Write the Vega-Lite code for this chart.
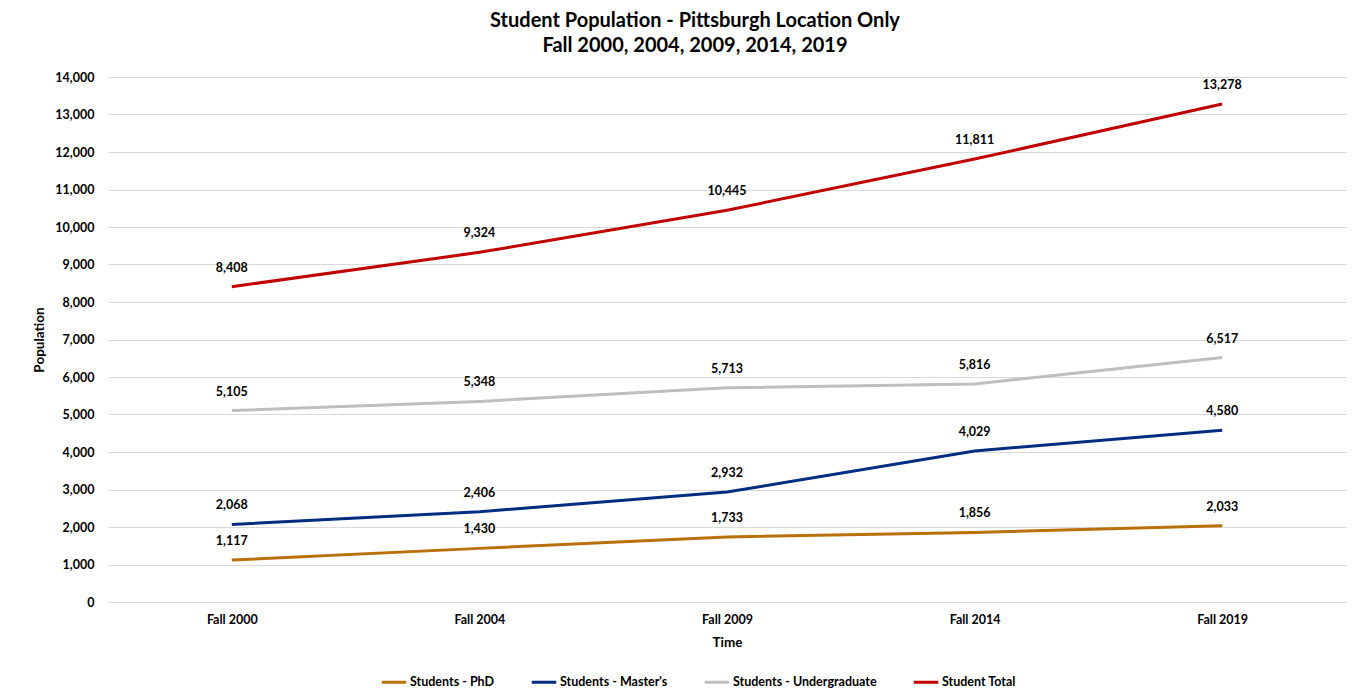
{
  "$schema": "https://vega.github.io/schema/vega-lite/v6.json",
  "width": 1238,
  "height": 525,
  "autosize": {"type": "none"},
  "padding": {"left": 108, "top": 77, "right": 7, "bottom": 89},
  "background": "white",
  "title": {
    "text": ["Student Population - Pittsburgh Location Only", "Fall 2000, 2004, 2009, 2014, 2019"],
    "font": "Lato",
    "fontSize": 20,
    "fontWeight": "bold",
    "color": "#000000",
    "anchor": "middle",
    "dx": -32,
    "offset": 15,
    "lineHeight": 25
  },
  "config": {
    "font": "Lato",
    "view": {"stroke": null},
    "axis": {"labelFont": "Lato", "titleFont": "Lato", "labelFontWeight": "bold", "titleFontWeight": "bold", "labelColor": "#000000", "titleColor": "#000000", "labelFontSize": 12.5, "titleFontSize": 13.5}
  },
  "data": {
    "values": [
      {"time": "Fall 2000", "series": "Students - PhD", "value": 1117},
      {"time": "Fall 2004", "series": "Students - PhD", "value": 1430},
      {"time": "Fall 2009", "series": "Students - PhD", "value": 1733},
      {"time": "Fall 2014", "series": "Students - PhD", "value": 1856},
      {"time": "Fall 2019", "series": "Students - PhD", "value": 2033},
      {"time": "Fall 2000", "series": "Students - Master's", "value": 2068},
      {"time": "Fall 2004", "series": "Students - Master's", "value": 2406},
      {"time": "Fall 2009", "series": "Students - Master's", "value": 2932},
      {"time": "Fall 2014", "series": "Students - Master's", "value": 4029},
      {"time": "Fall 2019", "series": "Students - Master's", "value": 4580},
      {"time": "Fall 2000", "series": "Students - Undergraduate", "value": 5105},
      {"time": "Fall 2004", "series": "Students - Undergraduate", "value": 5348},
      {"time": "Fall 2009", "series": "Students - Undergraduate", "value": 5713},
      {"time": "Fall 2014", "series": "Students - Undergraduate", "value": 5816},
      {"time": "Fall 2019", "series": "Students - Undergraduate", "value": 6517},
      {"time": "Fall 2000", "series": "Student Total", "value": 8408},
      {"time": "Fall 2004", "series": "Student Total", "value": 9324},
      {"time": "Fall 2009", "series": "Student Total", "value": 10445},
      {"time": "Fall 2014", "series": "Student Total", "value": 11811},
      {"time": "Fall 2019", "series": "Student Total", "value": 13278}
    ]
  },
  "encoding": {
    "x": {
      "field": "time", "type": "ordinal",
      "scale": {"type": "point", "padding": 0.5},
      "axis": {"title": "Time", "labelAngle": 0, "domain": false, "ticks": false, "labelPadding": 11, "titleY": 33, "grid": false}
    },
    "y": {
      "field": "value", "type": "quantitative",
      "scale": {"domain": [0, 14000]},
      "axis": {"title": "Population", "format": ",.0f", "values": [0,1000,2000,3000,4000,5000,6000,7000,8000,9000,10000,11000,12000,13000,14000], "labelOverlap": false, "domain": false, "ticks": false, "labelPadding": 14, "gridColor": "#D9D9D9", "titleX": -62}
    },
    "color": {
      "field": "series", "type": "nominal",
      "scale": {"domain": ["Students - PhD", "Students - Master's", "Students - Undergraduate", "Student Total"], "range": ["#B8700A", "#002D80", "#BFBFBF", "#C00000"]},
      "legend": {"title": null, "orient": "none", "legendX": 272, "legendY": 591, "padding": 0, "direction": "horizontal", "symbolType": "stroke", "symbolSize": 600, "symbolStrokeWidth": 3, "labelFont": "Lato", "labelFontWeight": "bold", "labelFontSize": 12.5, "labelColor": "#000000", "columnPadding": 30, "labelOffset": 2}
    }
  },
  "layer": [
    {"mark": {"type": "line", "strokeWidth": 3}},
    {
      "mark": {"type": "text", "dy": -19, "fontWeight": "bold", "fontSize": 12.5, "color": "#000000", "font": "Lato"},
      "encoding": {"text": {"field": "value", "type": "quantitative", "format": ","}, "color": {"value": "#000000"}}
    }
  ]
}
